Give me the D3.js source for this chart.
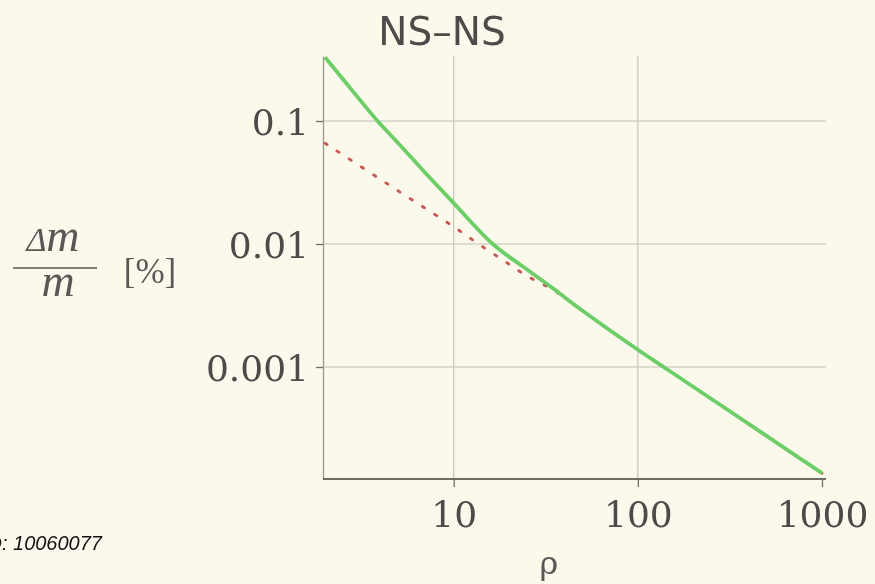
<!DOCTYPE html>
<html>
<head>
<meta charset="utf-8">
<script src="https://cdn.jsdelivr.net/npm/d3@7"></script>
<style>
  html, body { margin: 0; padding: 0; background: #faf8eb; overflow: hidden; }
  svg { display: block; }
</style>
</head>
<body>
<script>
// values
const greenRho = [2, 3, 3.86, 5, 7, 10, 16.3, 25, 35, 48, 100, 138, 300, 1000];
const greenVal = [0.33, 0.157, 0.1, 0.066, 0.038, 0.0215, 0.01, 0.0062, 0.0043, 0.0030, 0.00138, 0.001, 0.00046, 0.000137];
const redRho = [2, 5, 10, 13.5, 18.5, 25, 35, 48, 100, 138, 300, 1000];
const redVal = [0.066, 0.027, 0.0138, 0.0101, 0.0074, 0.0055, 0.0042, 0.0030, 0.00138, 0.001, 0.00046, 0.000137];
const xTicks = [10, 100, 1000];
const yTicks = [0.1, 0.01, 0.001];
const yTickLabels = ["0.1", "0.01", "0.001"];

const W = 875, H = 584;
const pLeft = 323, pRight = 822, pTop = 56, pBottom = 479;

const svg = d3.select('body').append('svg').attr('width', W).attr('height', H);

const defs = svg.append('defs');
defs.append('filter').attr('id', 'soft')
    .append('feGaussianBlur').attr('stdDeviation', 0.6);
defs.append('clipPath').attr('id', 'plotclip')
    .append('rect').attr('x', pLeft).attr('y', pTop).attr('width', pRight - pLeft + 4).attr('height', pBottom - pTop);

svg.append('rect').attr('width', W).attr('height', H).attr('fill', '#fbf9ec');

const x = d3.scaleLog().domain([2, 1000]).range([pLeft + 2, pRight]);
const y = d3.scaleLog().domain([1.229e-4, 0.3376]).range([pBottom, pTop]);

const g = svg.append('g').attr('filter', 'url(#soft)');

// grid
g.append('g').selectAll('line').data(yTicks).join('line')
    .attr('x1', pLeft).attr('x2', pRight + 4)
    .attr('y1', d => y(d)).attr('y2', d => y(d))
    .attr('stroke', '#c2beb1').attr('stroke-width', 1.2);
g.append('g').selectAll('line').data(xTicks.filter(d => d < 1000)).join('line')
    .attr('x1', d => x(d)).attr('x2', d => x(d))
    .attr('y1', pTop).attr('y2', pBottom)
    .attr('stroke', '#c9c5b8').attr('stroke-width', 1.2);

// axes
const yAxis = g.append('g').attr('transform', `translate(${pLeft},0)`)
    .call(d3.axisLeft(y).tickValues(yTicks).tickSize(7).tickSizeOuter(0).tickPadding(7)
        .tickFormat((d, i) => yTickLabels[i]));
yAxis.select('.domain').attr('stroke', '#9a978d').attr('stroke-width', 1.3);
yAxis.selectAll('.tick line').attr('stroke', '#6f6c66').attr('stroke-width', 1.3);
yAxis.selectAll('.tick text')
    .attr('font-family', 'DejaVu Serif').attr('font-size', 36).attr('fill', '#4d4b48')
    .attr('dy', '0.38em');

const xAxis = g.append('g').attr('transform', `translate(0,${pBottom})`)
    .call(d3.axisBottom(x).tickValues(xTicks).tickSize(8).tickSizeOuter(0).tickPadding(14)
        .tickFormat(d3.format('d')));
xAxis.select('.domain').attr('stroke', '#3f3d3a').attr('stroke-width', 1.6)
    .attr('d', `M${pLeft},0H${pRight + 4}`);
xAxis.selectAll('.tick line').attr('stroke', '#6f6c66').attr('stroke-width', 1.3);
xAxis.selectAll('.tick text')
    .attr('font-family', 'DejaVu Serif').attr('font-size', 36).attr('fill', '#4d4b48');

// lines
const line = d3.line().x(d => x(d[0])).y(d => y(d[1])).curve(d3.curveCatmullRom.alpha(0.5));
const plot = g.append('g').attr('clip-path', 'url(#plotclip)');
plot.append('path').datum(d3.zip(redRho, redVal))
    .attr('d', line).attr('fill', 'none')
    .attr('stroke', '#c95652').attr('stroke-width', 2.8)
    .attr('stroke-linecap', 'round').attr('stroke-dasharray', '2.5,12');
plot.append('path').datum(d3.zip(greenRho, greenVal))
    .attr('d', line).attr('fill', 'none')
    .attr('stroke', '#6dce68').attr('stroke-width', 3.8);

// titles and labels
g.append('text').attr('x', 442).attr('y', 45).attr('text-anchor', 'middle')
    .attr('font-family', 'DejaVu Sans').attr('font-size', 39).attr('fill', '#4d4b48')
    .text('NS–NS');

g.append('text').attr('x', 549).attr('y', 574).attr('text-anchor', 'middle')
    .attr('font-family', 'DejaVu Serif').attr('font-size', 32).attr('fill', '#5a5854')
    .text('ρ');

const lab = g.append('g').attr('fill', '#5a5854');
const num = lab.append('text').attr('x', 53).attr('y', 251).attr('text-anchor', 'middle')
    .attr('font-family', 'Liberation Serif').attr('font-style', 'italic').attr('font-size', 46);
num.append('tspan').attr('font-size', 34).text('Δ');
num.append('tspan').text('m');
lab.append('line').attr('x1', 13).attr('x2', 97).attr('y1', 268).attr('y2', 268)
    .attr('stroke', '#5a5854').attr('stroke-width', 1.6);
lab.append('text').attr('x', 58).attr('y', 296).attr('text-anchor', 'middle')
    .attr('font-family', 'Liberation Serif').attr('font-style', 'italic').attr('font-size', 46)
    .text('m');
lab.append('text').attr('x', 150).attr('y', 283).attr('text-anchor', 'middle')
    .attr('font-family', 'Liberation Serif').attr('font-size', 35)
    .text('[%]');

svg.append('text').attr('x', 102).attr('y', 550).attr('text-anchor', 'end')
    .attr('font-family', 'Liberation Sans').attr('font-style', 'italic').attr('font-size', 20)
    .attr('fill', '#111').text('ID: 10060077');
</script>
</body>
</html>
